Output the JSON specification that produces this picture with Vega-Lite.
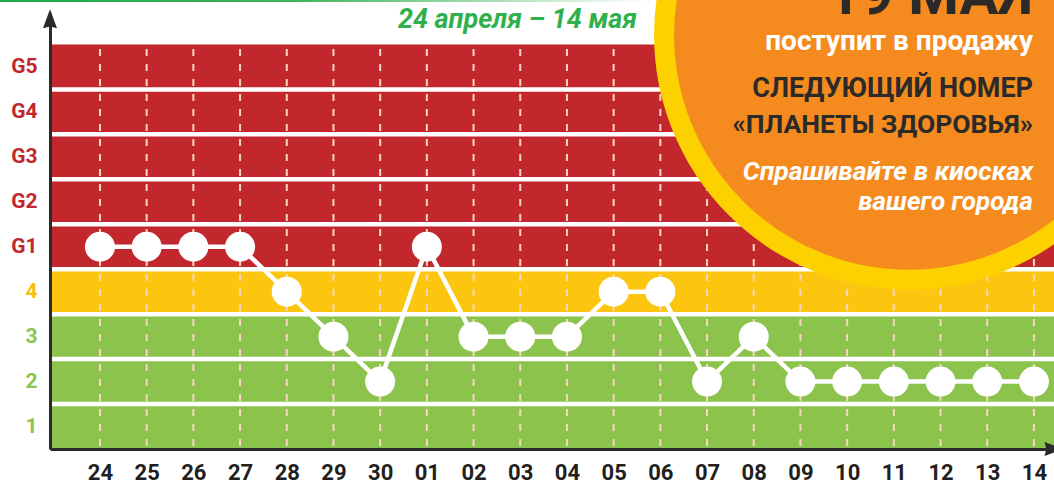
{
  "$schema": "https://vega.github.io/schema/vega-lite/v6.json",
  "width": 1004,
  "height": 436,
  "autosize": {"type": "none"},
  "padding": {"left": 50, "top": 13, "right": 0, "bottom": 36},
  "background": "white",
  "config": {"view": {"stroke": null}},
  "datasets": {
    "kp": [
      {"i": 0, "day": "24", "level": 5},
      {"i": 1, "day": "25", "level": 5},
      {"i": 2, "day": "26", "level": 5},
      {"i": 3, "day": "27", "level": 5},
      {"i": 4, "day": "28", "level": 4},
      {"i": 5, "day": "29", "level": 3},
      {"i": 6, "day": "30", "level": 2},
      {"i": 7, "day": "01", "level": 5},
      {"i": 8, "day": "02", "level": 3},
      {"i": 9, "day": "03", "level": 3},
      {"i": 10, "day": "04", "level": 3},
      {"i": 11, "day": "05", "level": 4},
      {"i": 12, "day": "06", "level": 4},
      {"i": 13, "day": "07", "level": 2},
      {"i": 14, "day": "08", "level": 3},
      {"i": 15, "day": "09", "level": 2},
      {"i": 16, "day": "10", "level": 2},
      {"i": 17, "day": "11", "level": 2},
      {"i": 18, "day": "12", "level": 2},
      {"i": 19, "day": "13", "level": 2},
      {"i": 20, "day": "14", "level": 2}
    ],
    "zones": [
      {"zone": "quiet", "lo": 0.5, "hi": 3.5},
      {"zone": "active", "lo": 3.5, "hi": 4.5},
      {"zone": "storm", "lo": 4.5, "hi": 9.5}
    ],
    "seps": [
      {"b": 1.5}, {"b": 2.5}, {"b": 3.5}, {"b": 4.5},
      {"b": 5.5}, {"b": 6.5}, {"b": 7.5}, {"b": 8.5}
    ],
    "one": [{}]
  },
  "layer": [
    {
      "data": {"name": "one"},
      "mark": {"type": "rect", "fill": {"gradient": "linear", "x1": 0, "x2": 1, "y1": 0, "y2": 0, "stops": [{"offset": 0, "color": "#1fa84a"}, {"offset": 0.45, "color": "#3db457"}, {"offset": 1, "color": "#ffffff"}]}},
      "encoding": {
        "x": {"datum": -2.141, "type": "quantitative"},
        "x2": {"datum": 11.78},
        "y": {"datum": 10.489, "type": "quantitative"},
        "y2": {"datum": 10.445}
      }
    },
    {
      "data": {"name": "zones"},
      "mark": {"type": "rect"},
      "encoding": {
        "x": {"datum": -1.07, "type": "quantitative"},
        "x2": {"datum": 20.43},
        "y": {
          "field": "lo", "type": "quantitative",
          "scale": {"domain": [0.5, 10.2], "nice": false, "zero": false},
          "axis": {
            "title": null, "values": [1, 2, 3, 4, 5, 6, 7, 8, 9],
            "labelExpr": "['','1','2','3','4','G1','G2','G3','G4','G5'][datum.value]",
            "ticks": false, "tickSize": 0, "grid": false, "zindex": 1,
            "domainColor": "#2b2a29", "domainWidth": 3,
            "labelPadding": 13, "labelFont": "Roboto", "labelFontWeight": "bold", "labelFontSize": 21,
            "labelColor": {"condition": [{"test": "datum.value >= 5", "value": "#c1272d"}, {"test": "datum.value == 4", "value": "#f7be12"}], "value": "#8cc54e"}
          }
        },
        "y2": {"field": "hi"},
        "color": {"field": "zone", "type": "nominal", "scale": {"domain": ["quiet", "active", "storm"], "range": ["#8bc34d", "#fcc50f", "#c1272d"]}, "legend": null}
      }
    },
    {
      "data": {"name": "seps"},
      "mark": {"type": "rule", "color": "white", "strokeWidth": 4.5},
      "encoding": {"y": {"field": "b", "type": "quantitative"}}
    },
    {
      "data": {"name": "kp"},
      "mark": {"type": "rule", "color": "#f9d6c1", "strokeWidth": 2, "strokeDash": [7, 8], "strokeDashOffset": 10.5},
      "encoding": {
        "x": {
          "field": "i", "type": "quantitative",
          "scale": {"domain": [-1.07, 20.43], "nice": false, "zero": false},
          "axis": {
            "title": null, "values": [0, 1, 2, 3, 4, 5, 6, 7, 8, 9, 10, 11, 12, 13, 14, 15, 16, 17, 18, 19, 20],
            "labelExpr": "['24','25','26','27','28','29','30','01','02','03','04','05','06','07','08','09','10','11','12','13','14'][datum.value]",
            "ticks": false, "tickSize": 0, "grid": false, "zindex": 1,
            "domainColor": "#2b2a29", "domainWidth": 3,
            "labelPadding": 30, "labelBaseline": "alphabetic", "labelOverlap": false, "labelFlush": false,
            "labelFont": "Roboto", "labelFontWeight": "bold", "labelFontSize": 22, "labelColor": "#231f20"
          }
        },
        "y": {"datum": 9.5, "type": "quantitative"},
        "y2": {"datum": 0.5}
      }
    },
    {
      "data": {"name": "kp"},
      "mark": {"type": "line", "color": "white", "strokeWidth": 4.5},
      "encoding": {
        "x": {"field": "i", "type": "quantitative"},
        "y": {"field": "level", "type": "quantitative"}
      }
    },
    {
      "data": {"name": "kp"},
      "mark": {"type": "point", "shape": "circle", "filled": true, "color": "white", "opacity": 1, "size": 900},
      "encoding": {
        "x": {"field": "i", "type": "quantitative"},
        "y": {"field": "level", "type": "quantitative"}
      }
    },
    {
      "data": {"name": "one"},
      "mark": {"type": "point", "shape": "circle", "filled": true, "fill": "#f58b1f", "stroke": "#fdd000", "strokeWidth": 20, "size": 239512, "opacity": 1, "fillOpacity": 1, "strokeOpacity": 1},
      "encoding": {
        "x": {"datum": 17.32, "type": "quantitative"},
        "y": {"datum": 9.711, "type": "quantitative"}
      }
    },
    {
      "data": {"name": "one"},
      "mark": {"type": "text", "text": "19 МАЯ", "align": "right", "baseline": "alphabetic", "font": "Liberation Sans Narrow, Roboto", "fontWeight": "bold", "fontSize": 58, "color": "#2b2a29"},
      "encoding": {"x": {"datum": 19.98, "type": "quantitative"}, "y": {"datum": 10.18, "type": "quantitative"}}
    },
    {
      "data": {"name": "one"},
      "mark": {"type": "text", "text": "поступит в продажу", "align": "right", "baseline": "alphabetic", "font": "Liberation Sans Narrow, Roboto", "fontWeight": "bold", "fontSize": 28, "color": "white"},
      "encoding": {"x": {"datum": 19.98, "type": "quantitative"}, "y": {"datum": 9.377, "type": "quantitative"}}
    },
    {
      "data": {"name": "one"},
      "mark": {"type": "text", "text": "СЛЕДУЮЩИЙ НОМЕР", "align": "right", "baseline": "alphabetic", "font": "Liberation Sans Narrow, Roboto", "fontWeight": "bold", "fontSize": 27, "color": "#2b2a29"},
      "encoding": {"x": {"datum": 19.98, "type": "quantitative"}, "y": {"datum": 8.331, "type": "quantitative"}}
    },
    {
      "data": {"name": "one"},
      "mark": {"type": "text", "text": "«ПЛАНЕТЫ ЗДОРОВЬЯ»", "align": "right", "baseline": "alphabetic", "font": "Liberation Sans Narrow, Roboto", "fontWeight": "bold", "fontSize": 26.5, "color": "#2b2a29"},
      "encoding": {"x": {"datum": 19.98, "type": "quantitative"}, "y": {"datum": 7.53, "type": "quantitative"}}
    },
    {
      "data": {"name": "one"},
      "mark": {"type": "text", "text": "Спрашивайте в киосках", "align": "right", "baseline": "alphabetic", "font": "Liberation Sans Narrow, Roboto", "fontWeight": "bold", "fontStyle": "italic", "fontSize": 26.5, "color": "white"},
      "encoding": {"x": {"datum": 19.98, "type": "quantitative"}, "y": {"datum": 6.485, "type": "quantitative"}}
    },
    {
      "data": {"name": "one"},
      "mark": {"type": "text", "text": "вашего города", "align": "right", "baseline": "alphabetic", "font": "Liberation Sans Narrow, Roboto", "fontWeight": "bold", "fontStyle": "italic", "fontSize": 26, "color": "white"},
      "encoding": {"x": {"datum": 19.98, "type": "quantitative"}, "y": {"datum": 5.817, "type": "quantitative"}}
    },
    {
      "data": {"name": "one"},
      "mark": {"type": "text", "text": "24 апреля – 14 мая", "align": "right", "baseline": "alphabetic", "font": "Roboto", "fontWeight": "bold", "fontStyle": "italic", "fontSize": 27, "color": "#2fb04c"},
      "encoding": {"x": {"datum": 11.5, "type": "quantitative"}, "y": {"datum": 9.866, "type": "quantitative"}}
    },
    {
      "data": {"name": "one"},
      "mark": {"type": "point", "shape": "M0,-1L0.74,1L0,0.8L-0.74,1Z", "filled": true, "color": "#2b2a29", "opacity": 1, "size": 361},
      "encoding": {"x": {"datum": -1.07, "type": "quantitative"}, "y": {"datum": 10.071, "type": "quantitative"}}
    },
    {
      "data": {"name": "one"},
      "mark": {"type": "point", "shape": "M1,0L-1,-0.74L-0.8,0L-1,0.74Z", "filled": true, "color": "#2b2a29", "opacity": 1, "size": 361},
      "encoding": {"x": {"datum": 20.43, "type": "quantitative"}, "y": {"datum": 0.5, "type": "quantitative"}}
    }
  ]
}
